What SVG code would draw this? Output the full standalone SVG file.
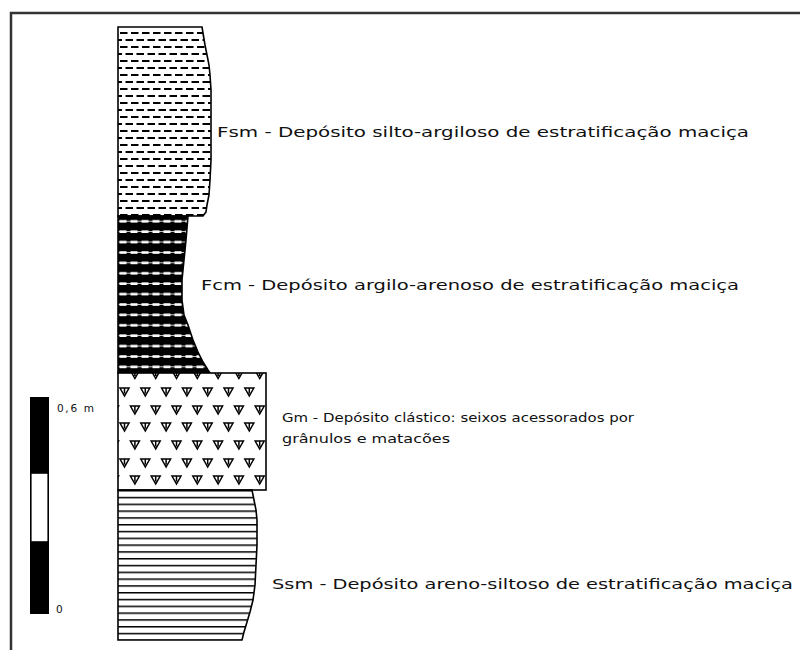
<svg xmlns="http://www.w3.org/2000/svg" xmlns:xlink="http://www.w3.org/1999/xlink" width="800" height="650" viewBox="0 0 800 650">
  <style>
    .frame { fill: none; stroke: #333; stroke-width: 2.5; }
    .edge { stroke: #000; stroke-width: 1.6; stroke-linejoin: miter; }
    .label { font-family: "DejaVu Sans", "Liberation Sans", sans-serif; font-size: 14.5px; fill: #111; }
    .small { font-family: "DejaVu Sans", "Liberation Sans", sans-serif; font-size: 12px; fill: #111; }
    .tiny { font-family: "DejaVu Sans", "Liberation Sans", sans-serif; font-size: 10.5px; fill: #111; }
    .tri { fill: none; stroke: #000; stroke-width: 1.5; }
  </style>
  <defs>
    <!-- silt/clay: staggered dashes -->
    <pattern id="pFsm" patternUnits="userSpaceOnUse" x="118" y="27" width="11" height="14">
      <rect x="2" y="5" width="7.5" height="2" fill="#000"/>
      <rect x="7.5" y="12" width="3.5" height="2" fill="#000"/>
      <rect x="0" y="12" width="4" height="2" fill="#000"/>
    </pattern>
    <!-- clay/sand: black with white dashed bands -->
    <pattern id="pFcm" patternUnits="userSpaceOnUse" x="118" y="216" width="11" height="10.4">
      <rect x="0" y="0" width="11" height="10.4" fill="#000"/>
      <rect x="0" y="4.8" width="11" height="0.8" fill="#fff"/>
      <rect x="1.5" y="4" width="7" height="2.6" fill="#fff"/>
    </pattern>
    <!-- sand/silt: horizontal lines -->
    <pattern id="pSsm" patternUnits="userSpaceOnUse" x="118" y="490" width="10" height="6.8">
      <rect x="0" y="0" width="10" height="6.8" fill="#fff"/>
      <rect x="0" y="0" width="10" height="1.5" fill="#000"/>
    </pattern>
    <!-- clast symbol -->
    <g id="clast">
      <path class="tri" d="M-4.5,-4 H4.5 L0,4 Z M0,-4 V1.5"/>
    </g>
    <clipPath id="clipGm">
      <rect x="118" y="373" width="148" height="117"/>
    </clipPath>
  </defs>

  <rect width="800" height="650" fill="#fff"/>

  <!-- outer frame (top and left) -->
  <path class="frame" d="M11,650 V13 H800"/>

  <!-- Fsm -->
  <g id="fsm">
    <polygon points="118,27 202,27 203,33 205,45 207,55 209,65 210,75 211,90 211,160 210,180 209,195 207,205 206,212 203,216 118,216" fill="url(#pFsm)" class="edge"/>
  </g>

  <!-- Fcm -->
  <g id="fcm">
    <polygon points="118,216 188,216 186,240 184,260 182,280 182,300 184,315 188,325 193,340 198,352 203,362 208,370 210,373 118,373" fill="url(#pFcm)" class="edge"/>
  </g>

  <!-- Gm -->
  <g id="gm">
    <rect x="118" y="373" width="148" height="117" fill="#fff"/>
    <g clip-path="url(#clipGm)">
      <use xlink:href="#clast" x="114.1" y="374.5"/><use xlink:href="#clast" x="134.9" y="374.5"/><use xlink:href="#clast" x="155.7" y="374.5"/><use xlink:href="#clast" x="176.5" y="374.5"/><use xlink:href="#clast" x="197.3" y="374.5"/><use xlink:href="#clast" x="218.1" y="374.5"/><use xlink:href="#clast" x="238.9" y="374.5"/><use xlink:href="#clast" x="259.7" y="374.5"/>
      <use xlink:href="#clast" x="124.5" y="392"/><use xlink:href="#clast" x="145.3" y="392"/><use xlink:href="#clast" x="166.1" y="392"/><use xlink:href="#clast" x="186.9" y="392"/><use xlink:href="#clast" x="207.7" y="392"/><use xlink:href="#clast" x="228.5" y="392"/><use xlink:href="#clast" x="249.3" y="392"/>
      <use xlink:href="#clast" x="114.1" y="410"/><use xlink:href="#clast" x="134.9" y="410"/><use xlink:href="#clast" x="155.7" y="410"/><use xlink:href="#clast" x="176.5" y="410"/><use xlink:href="#clast" x="197.3" y="410"/><use xlink:href="#clast" x="218.1" y="410"/><use xlink:href="#clast" x="238.9" y="410"/><use xlink:href="#clast" x="259.7" y="410"/>
      <use xlink:href="#clast" x="124.5" y="427"/><use xlink:href="#clast" x="145.3" y="427"/><use xlink:href="#clast" x="166.1" y="427"/><use xlink:href="#clast" x="186.9" y="427"/><use xlink:href="#clast" x="207.7" y="427"/><use xlink:href="#clast" x="228.5" y="427"/><use xlink:href="#clast" x="249.3" y="427"/>
      <use xlink:href="#clast" x="114.1" y="445"/><use xlink:href="#clast" x="134.9" y="445"/><use xlink:href="#clast" x="155.7" y="445"/><use xlink:href="#clast" x="176.5" y="445"/><use xlink:href="#clast" x="197.3" y="445"/><use xlink:href="#clast" x="218.1" y="445"/><use xlink:href="#clast" x="238.9" y="445"/><use xlink:href="#clast" x="259.7" y="445"/>
      <use xlink:href="#clast" x="124.5" y="463"/><use xlink:href="#clast" x="145.3" y="463"/><use xlink:href="#clast" x="166.1" y="463"/><use xlink:href="#clast" x="186.9" y="463"/><use xlink:href="#clast" x="207.7" y="463"/><use xlink:href="#clast" x="228.5" y="463"/><use xlink:href="#clast" x="249.3" y="463"/>
      <use xlink:href="#clast" x="114.1" y="480"/><use xlink:href="#clast" x="134.9" y="480"/><use xlink:href="#clast" x="155.7" y="480"/><use xlink:href="#clast" x="176.5" y="480"/><use xlink:href="#clast" x="197.3" y="480"/><use xlink:href="#clast" x="218.1" y="480"/><use xlink:href="#clast" x="238.9" y="480"/><use xlink:href="#clast" x="259.7" y="480"/>
    </g>
    <rect x="118" y="373" width="148" height="117" fill="none" class="edge"/>
  </g>

  <!-- Ssm -->
  <g id="ssm">
    <polygon points="118,490 252,490 254,500 256,510 257,520 257,545 256,565 255,585 253,600 250,612 247,622 244,632 242,640 118,640" fill="url(#pSsm)" class="edge"/>
  </g>

  <!-- scale bar -->
  <g id="scale">
    <rect x="30" y="397" width="19" height="76" fill="#000"/>
    <rect x="30.8" y="473" width="17.4" height="69" fill="#fff" stroke="#000" stroke-width="1.6"/>
    <rect x="30" y="542" width="19" height="72" fill="#000"/>
    <text class="tiny" x="57" y="412" textLength="37" lengthAdjust="spacing">0,6 m</text>
    <text class="tiny" x="56" y="613">0</text>
  </g>

  <!-- facies labels -->
  <g id="labels">
    <text class="label" x="217" y="137" textLength="532" lengthAdjust="spacingAndGlyphs">Fsm - Depósito silto-argiloso de estratificação maciça</text>
    <text class="label" x="201" y="290" textLength="538" lengthAdjust="spacingAndGlyphs">Fcm - Depósito argilo-arenoso de estratificação maciça</text>
    <text class="small" x="282" y="422" textLength="352" lengthAdjust="spacingAndGlyphs">Gm - Depósito clástico: seixos acessorados por</text>
    <text class="small" x="282" y="443" textLength="168" lengthAdjust="spacingAndGlyphs">grânulos e matacões</text>
    <text class="label" x="272" y="589" textLength="521" lengthAdjust="spacingAndGlyphs">Ssm - Depósito areno-siltoso de estratificação maciça</text>
  </g>
</svg>
